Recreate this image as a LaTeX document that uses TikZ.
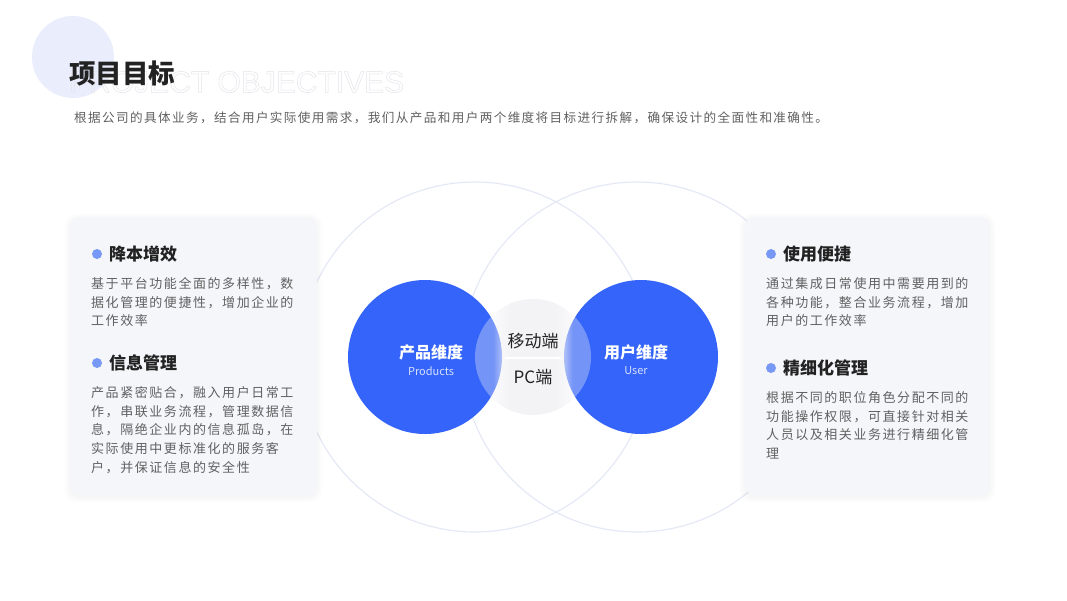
\documentclass[tikz,border=0pt]{standalone}
\usepackage{fontspec}
\setmainfont{Noto Sans CJK SC}
\newfontfamily\bodyfont[LetterSpace=12]{Noto Sans CJK SC}
\newfontfamily\introfont[LetterSpace=11]{Noto Sans CJK SC}
\newfontfamily\ghostfont{Liberation Sans}
\usetikzlibrary{fadings}
\definecolor{brandblue}{HTML}{3464F9}
\definecolor{dotblue}{HTML}{7898F6}
\definecolor{decolav}{HTML}{E9EDFC}
\definecolor{ringlav}{HTML}{E4E7F6}
\definecolor{cardgray}{HTML}{F5F6FA}
\definecolor{midgray}{HTML}{F3F3F6}
\definecolor{ghostgray}{HTML}{E3E4E9}
\definecolor{headink}{HTML}{222222}
\definecolor{bodyink}{HTML}{616161}
\tikzset{every node/.style={inner sep=0pt},line cap=round,line join=round,
  cardbox/.style={fill=cardgray,rounded corners=10pt},
  ring/.style={draw=ringlav,line width=1.1pt},
  heading/.style={anchor=west,text=headink,font=\fontsize{17}{20}\selectfont\bfseries},
  bodytext/.style={anchor=north west,align=left,text=bodyink,font=\fontsize{13}{18.6}\bodyfont},
  bullet/.style={circle,fill=dotblue,minimum size=10pt},
  dimtitle/.style={text=white,font=\fontsize{16}{19}\selectfont\bfseries},
  dimsub/.style={text=white,opacity=0.8,font=\fontsize{11}{13}\selectfont},
  midtext/.style={text=headink,font=\fontsize{17}{20}\selectfont}}
\pgfdeclarehorizontalshading{midshade}{100bp}{color(0bp)=(black!66); color(33bp)=(black!66);
  color(41bp)=(white); color(59bp)=(white); color(67bp)=(black!66); color(100bp)=(black!66)}
\tikzfading[name=midfade,shading=midshade]

\begin{document}
\begin{tikzpicture}[x=1pt,y=-1pt]
  \path[use as bounding box,fill=white] (0,0) rectangle (1067,600);
  % header
  \fill[decolav] (73,57) circle (41);
  \node[anchor=west,text=ghostgray,font=\fontsize{30}{36}\ghostfont] (ghost) at (69,82)
    {\special{pdf:literal direct 1 Tr 0.5 w}PROJECT OBJECTIVES\special{pdf:literal direct 0 Tr}};
  \node[anchor=west,text=headink,font=\fontsize{26.5}{30}\selectfont\bfseries] (title) at (69,73) {项目目标};
  \node[anchor=west,text=bodyink,font=\fontsize{12.6}{18}\introfont] (intro) at (74,118)
    {根据公司的具体业务，结合用户实际使用需求，我们从产品和用户两个维度将目标进行拆解，确保设计的全面性和准确性。};
  % rings behind the cards
  \draw[ring] (475,357) circle (175);
  \draw[ring] (637,357) circle (175);
  \foreach \g in {5,3,1}{
    \fill[black,opacity=0.012,rounded corners=11pt] (70-\g,217-\g+2) rectangle (317+\g,495+\g+2);
    \fill[black,opacity=0.012,rounded corners=11pt] (745-\g,217-\g+2) rectangle (990+\g,495+\g+2);
  }
  \fill[cardbox] (70,217) rectangle (317,495);
  \fill[cardbox] (745,217) rectangle (990,495);
  % left card
  \node[bullet] (dotA) at (97,254) {};
  \node[heading] (headA) at (109,254) {降本增效};
  \node[bodytext] (textA) at (91,277.5) {基于平台功能全面的多样性，数\\据化管理的便捷性，增加企业的\\工作效率};
  \node[bullet] (dotB) at (97,363) {};
  \node[heading] (headB) at (109,363) {信息管理};
  \node[bodytext] (textB) at (91,386.5) {产品紧密贴合，融入用户日常工\\作，串联业务流程，管理数据信\\息，隔绝企业内的信息孤岛，在\\实际使用中更标准化的服务客\\户，并保证信息的安全性};
  % right card
  \node[bullet] (dotC) at (771,254) {};
  \node[heading] (headC) at (783,254) {使用便捷};
  \node[bodytext] (textC) at (766,277.5) {通过集成日常使用中需要用到的\\各种功能，整合业务流程，增加\\用户的工作效率};
  \node[bullet] (dotD) at (771,368) {};
  \node[heading] (headD) at (783,368) {精细化管理};
  \node[bodytext] (textD) at (766,391.5) {根据不同的职位角色分配不同的\\功能操作权限，可直接针对相关\\人员以及相关业务进行精细化管\\理};
  % the two dimensions
  \fill[brandblue] (425,357) circle (77);
  \fill[brandblue] (641,357) circle (77);
  \fill[midgray,path fading=midfade] (533,357) circle (58);
  \node[dimtitle] (prod) at (431,352) {产品维度};
  \node[dimsub] (prodEn) at (431,371) {Products};
  \node[dimtitle] (user) at (636,352) {用户维度};
  \node[dimsub] (userEn) at (636,371) {User};
  \node[midtext] (mobile) at (533,341) {移动端};
  \coordinate (divL) at (505,358);
  \coordinate (divR) at (561,358);
  \draw[white,line width=1.3pt] (divL) -- (divR);
  \node[midtext] (pc) at (533,377) {PC端};
\end{tikzpicture}
\end{document}
